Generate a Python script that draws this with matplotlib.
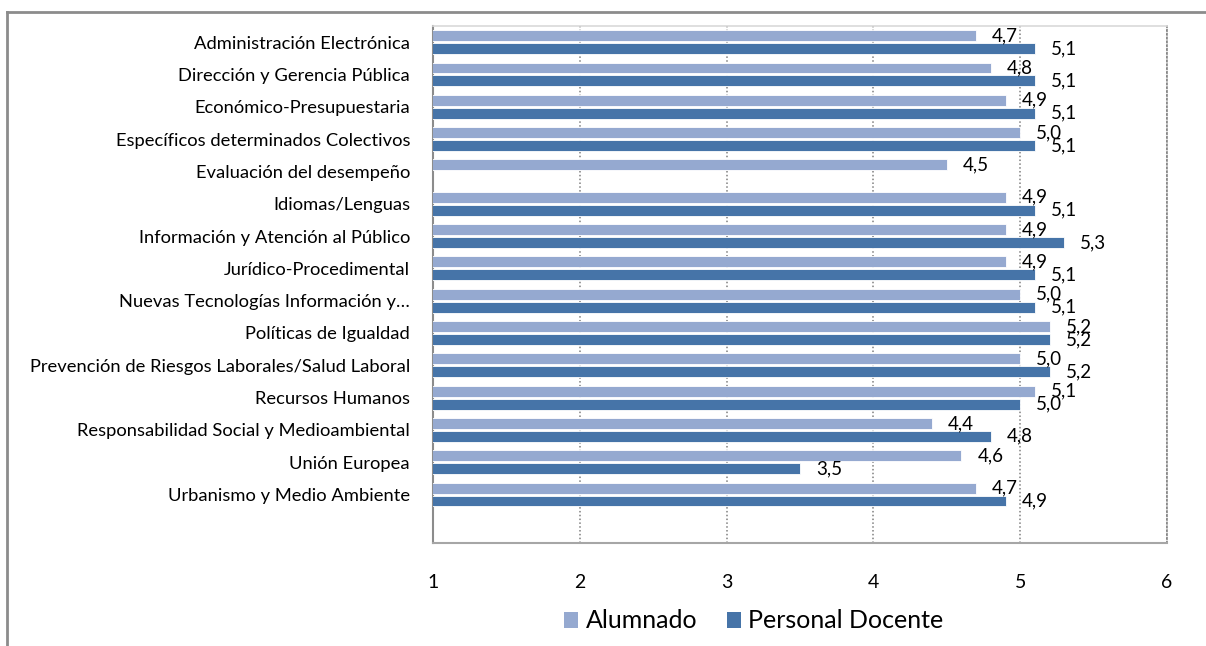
import numpy as np
import matplotlib
matplotlib.use("Agg")
import matplotlib.pyplot as plt
from matplotlib.lines import Line2D
from matplotlib.patches import Patch
from matplotlib.transforms import offset_copy

plt.rcParams['font.family'] = ['Lato', 'DejaVu Sans']

categories = [
    "Administración Electrónica",
    "Dirección y Gerencia Pública",
    "Económico-Presupuestaria",
    "Específicos determinados Colectivos",
    "Evaluación del desempeño",
    "Idiomas/Lenguas",
    "Información y Atención al Público",
    "Jurídico-Procedimental",
    "Nuevas Tecnologías Información y…",
    "Políticas de Igualdad",
    "Prevención de Riesgos Laborales/Salud Laboral",
    "Recursos Humanos",
    "Responsabilidad Social y Medioambiental",
    "Unión Europea",
    "Urbanismo y Medio Ambiente",
]
alumnado = [4.7, 4.8, 4.9, 5.0, 4.5, 4.9, 4.9, 4.9, 5.0, 5.2, 5.0, 5.1, 4.4, 4.6, 4.7]
docente = [5.1, 5.1, 5.1, 5.1, np.nan, 5.1, 5.3, 5.1, 5.1, 5.2, 5.2, 5.0, 4.8, 3.5, 4.9]
series_names = ["Alumnado", "Personal Docente"]
x_ticks = [1, 2, 3, 4, 5, 6]

c_light = "#95A9D0"
c_dark = "#4674A8"

W, H = 1206, 646
fig = plt.figure(figsize=(W / 100, H / 100), dpi=100)
ax = fig.add_axes([433 / W, 1 - 543 / H, (1167 - 433) / W, (543 - 26) / H])

n = len(categories)
y = np.arange(n)
bh = 0.34
off = 0.2

ax.barh(y - off, alumnado, height=bh, color=c_light, edgecolor="white", linewidth=0.6, zorder=3)
ax.barh(y + off, docente, height=bh, color=c_dark, edgecolor="white", linewidth=0.6, zorder=3)

ax.set_xlim(x_ticks[0], x_ticks[-1])
ax.set_ylim(n + 0.5, -0.5)  # one empty slot below the last category
ax.set_yticks(y)
ax.set_yticklabels(categories, fontsize=13.2, color="#000000")
ax.set_xticks(x_ticks)
ax.set_xticklabels([str(t) for t in x_ticks], fontsize=14)
ax.tick_params(axis="y", length=0, pad=16.5)
ax.tick_params(axis="x", length=0, pad=22)

ax.grid(axis="x", color="#7F7F7F", linestyle=(0, (1, 1.5)), linewidth=1.1, zorder=1)
ax.spines["left"].set_color("#8C8C8C")
ax.spines["left"].set_linewidth(1.5)
ax.spines["bottom"].set_color("#A6A6A6")
ax.spines["bottom"].set_linewidth(1.5)
ax.spines["top"].set_color("#D9D9D9")
ax.spines["top"].set_linewidth(1.2)
ax.spines["right"].set_color("#7F7F7F")
ax.spines["right"].set_linestyle((0, (1, 1.5)))
ax.spines["right"].set_linewidth(1.1)

# value labels to the right of each bar
trans = offset_copy(ax.transData, fig=fig, x=16, y=0, units="dots")
for i, v in enumerate(alumnado):
    ax.text(v, i - off, f"{v:.1f}".replace(".", ","), transform=trans,
            ha="left", va="center", fontsize=13.5, zorder=4)
for i, v in enumerate(docente):
    if np.isnan(v):
        continue
    ax.text(v, i + off, f"{v:.1f}".replace(".", ","), transform=trans,
            ha="left", va="center", fontsize=13.5, zorder=4)

handles = [Patch(facecolor=c_light, edgecolor="none"), Patch(facecolor=c_dark, edgecolor="none")]
fig.legend(handles, series_names, loc="center", bbox_to_anchor=(754 / W, 1 - 621 / H),
           ncol=2, frameon=False, fontsize=18, handlelength=0.55, handleheight=0.6,
           handletextpad=0.3, columnspacing=1.2)

# outer chart frame
frame_kw = dict(color="#8C8C8C", linewidth=2, transform=fig.transFigure)
fig.add_artist(Line2D([7 / W, 1], [1 - 12 / H, 1 - 12 / H], **frame_kw))
fig.add_artist(Line2D([7 / W, 7 / W], [1 - 12 / H, 0], **frame_kw))

fig.savefig("out.png", dpi=100)
